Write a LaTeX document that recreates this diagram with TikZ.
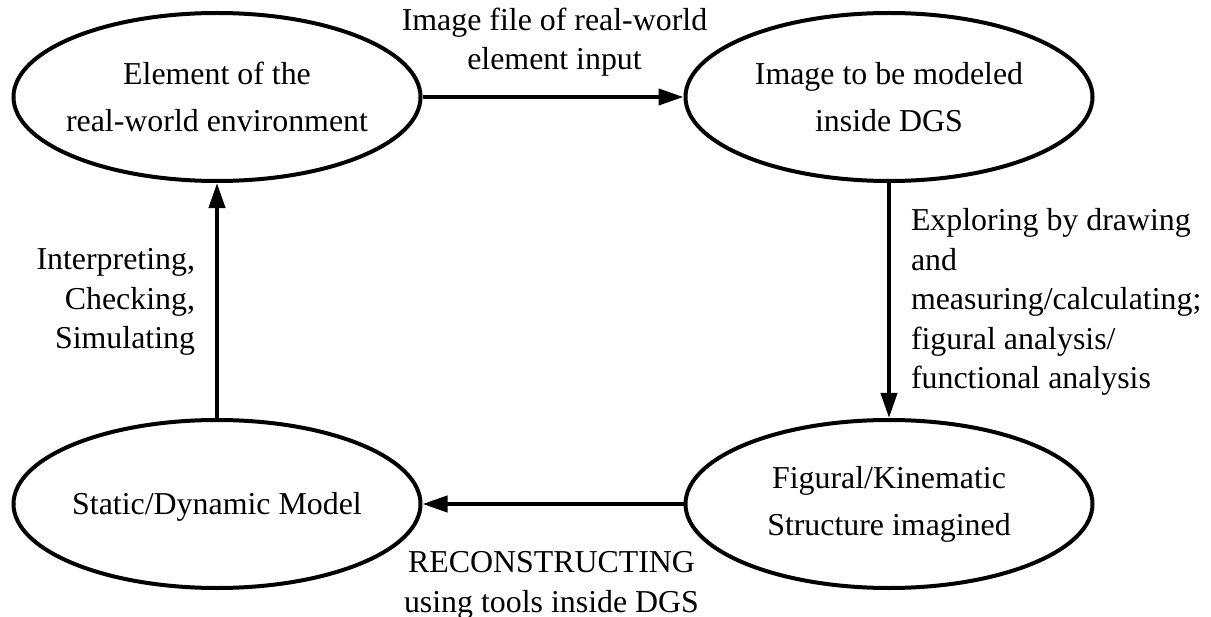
\documentclass[tikz,border=0pt]{standalone}
\usepackage{fontspec}
\setmainfont{Liberation Serif}
\usetikzlibrary{arrows.meta,shapes.geometric}
\begin{document}
\begin{tikzpicture}[x=1bp,y=-1bp,
  state/.style={draw, line width=4bp, ellipse,
    minimum width=407bp, minimum height=168bp,
    inner xsep=-30bp, inner ysep=0pt, align=center,
    font=\fontsize{32pt}{47bp}\selectfont,
    execute at begin node={\rule{0pt}{27bp}}},
  flow/.style={draw, line width=4bp, -{Triangle[length=25bp,width=16bp]}},
  note/.style={inner sep=0pt, font=\fontsize{32pt}{39.5bp}\selectfont}]
\useasboundingbox (0,0) rectangle (1211,617);

% the four stages of the modelling cycle
\node[state] (env)   at (217,97)  {Element of the\\real-world environment};
\node[state] (image) at (889,97)  {Image to be modeled\\inside DGS};
\node[state] (struct) at (889,504) {Figural/Kinematic\\Structure imagined};
\node[state] (model) at (217,504) {Static/Dynamic Model};

% transitions between the stages
\draw[flow] (env) -- node[note, align=center, above=18.6bp, xshift=1.5bp]
  {Image file of real-world\\element input} (image);
\draw[flow] (image) -- node[note, align=left, right=20bp, yshift=-1.5bp]
  {Exploring by drawing\\and\\measuring/calculating;\\figural analysis/\\functional analysis} (struct);
\draw[flow] (struct) -- node[note, align=center, below=45.8bp, xshift=-1.5bp]
  {RECONSTRUCTING\\using tools inside DGS} (model);
\draw[flow] (model) -- node[note, align=right, left=20bp, yshift=-1.8bp]
  {Interpreting,\\Checking,\\Simulating} (env);
\end{tikzpicture}
\end{document}
